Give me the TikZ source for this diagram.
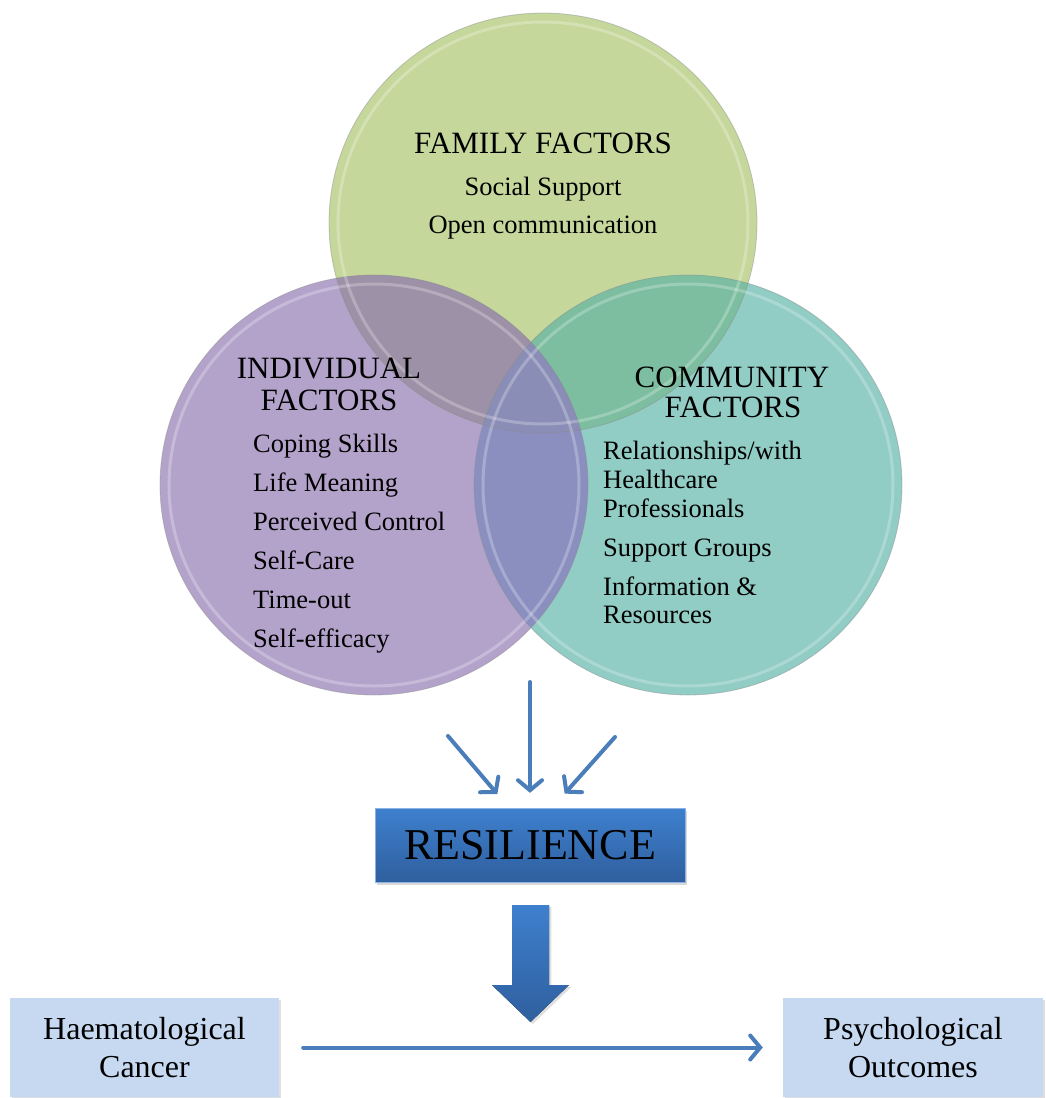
\documentclass[tikz,border=0pt]{standalone}
\usepackage{fontspec}
\setmainfont{Liberation Serif}
\usetikzlibrary{arrows.meta,shadows}

\definecolor{famgreen}{HTML}{C5D79B}
\definecolor{indpurple}{HTML}{B3A3CB}
\definecolor{comteal}{HTML}{91CCC5}
\definecolor{famind}{HTML}{9C91A6}
\definecolor{famcom}{HTML}{7CBE9F}
\definecolor{indcom}{HTML}{8A8FC0}
\definecolor{allthree}{HTML}{8A8DB6}
\definecolor{arrowblue}{HTML}{4A7EBB}
\definecolor{boxblue}{HTML}{C6D9F1}
\definecolor{restop}{HTML}{3E80CE}
\definecolor{resbot}{HTML}{2F5F9E}

\begin{document}
\begin{tikzpicture}[x=1pt, y=-1pt,
		rad/.style={x radius=214, y radius=210},
		rim_style/.style={draw=white, opacity=0.25, line width=3pt},
		edge_line/.style={draw=black!45, opacity=0.45, line width=0.8pt},
		head_style/.style={font=\fontsize{31}{32}\selectfont, inner sep=0pt},
		item_style/.style={font=\fontsize{26.5}{30}\selectfont, inner sep=0pt},
		res_box/.style={rectangle, minimum width=310pt, minimum height=74pt, inner sep=0pt,
			top color=restop, bottom color=resbot, draw=restop!60!white,
			drop shadow={opacity=0.3, shadow xshift=2pt, shadow yshift=-3pt},
			font=\fontsize{44}{44}\selectfont},
		out_box/.style={rectangle, fill=boxblue, minimum height=99pt, inner sep=0pt,
			align=center, font=\fontsize{32}{38}\selectfont,
			drop shadow={opacity=0.25, shadow xshift=2pt, shadow yshift=-2pt}},
		in_arrow/.style={draw=arrowblue, line width=4pt, line cap=round,
			-{Straight Barb[length=10pt, width=24pt, line cap=round]}}]

		\useasboundingbox (0,0) rectangle (1045,1098);

		% circle centres
		\coordinate (fam) at (543,223);
		\coordinate (ind) at (374,485);
		\coordinate (com) at (688,485);

		% venn circles
		\fill[famgreen] (fam) ellipse [rad];
		\fill[indpurple] (ind) ellipse [rad];
		\fill[comteal] (com) ellipse [rad];
		\begin{scope}
			\clip (fam) ellipse [rad];
			\fill[famind] (ind) ellipse [rad];
			\fill[famcom] (com) ellipse [rad];
		\end{scope}
		\begin{scope}
			\clip (ind) ellipse [rad];
			\fill[indcom] (com) ellipse [rad];
			\clip (fam) ellipse [rad];
			\fill[allthree] (com) ellipse [rad];
		\end{scope}
		\foreach \c in {fam,ind,com} {
			\draw[rim_style] (\c) ellipse [x radius=205, y radius=201];
			\draw[edge_line] (\c) ellipse [rad];
		}

		% family factors
		\node[head_style, anchor=base] (famhead) at (543,153) {FAMILY FACTORS};
		\node[item_style, anchor=base] (fam1) at (543,195) {Social Support};
		\node[item_style, anchor=base] (fam2) at (543,233) {Open communication};

		% individual factors
		\node[head_style, anchor=base] (indhead1) at (329,378) {INDIVIDUAL};
		\node[head_style, anchor=base] (indhead2) at (329,410) {FACTORS};
		\foreach \t [count=\i] in {Coping Skills, Life Meaning, Perceived Control,
			Self-Care, Time-out, Self-efficacy}
			\node[item_style, anchor=base west] (ind\i) at (253,413+39*\i) {\t};

		% community factors
		\node[head_style, anchor=base] (comhead1) at (732,387) {COMMUNITY};
		\node[head_style, anchor=base] (comhead2) at (733,417) {FACTORS};
		\node[item_style, anchor=base west] (com1) at (603,459) {Relationships/with};
		\node[item_style, anchor=base west] (com2) at (603,488) {Healthcare};
		\node[item_style, anchor=base west] (com3) at (603,517) {Professionals};
		\node[item_style, anchor=base west] (com4) at (603,556) {Support Groups};
		\node[item_style, anchor=base west] (com5) at (603,595) {Information \&};
		\node[item_style, anchor=base west] (com6) at (603,623) {Resources};

		% resilience and outcome boxes
		\node[res_box] (res) at (530,845) {RESILIENCE};
		\node[out_box, minimum width=269pt] (cancer) at (144.5,1047.5) {Haematological\\Cancer};
		\node[out_box, minimum width=260pt] (outcomes) at (913,1047.5) {Psychological\\Outcomes};

		% arrows into resilience
		\coordinate (inL) at (448,736);
		\coordinate (inM) at (530,682);
		\coordinate (inR) at (615,737);
		\draw[in_arrow, shorten >=18pt] (inL) -- ([xshift=-21pt]res.north);
		\draw[in_arrow, shorten >=15pt] (inM) -- (res.north);
		\draw[in_arrow, shorten >=19pt] (inR) -- ([xshift=22pt]res.north);

		% block arrow
		\fill[top color=restop, bottom color=resbot, drop shadow={opacity=0.25, shadow yshift=-2pt}]
			(512,905) -- (549,905) -- (549,985) -- (569,985) -- (530.5,1022)
			-- (492,985) -- (512,985) -- cycle;

		% main path
		\draw[in_arrow, shorten <=24pt, shorten >=20pt] (cancer.east) -- (outcomes.west);

\end{tikzpicture}
\end{document}
